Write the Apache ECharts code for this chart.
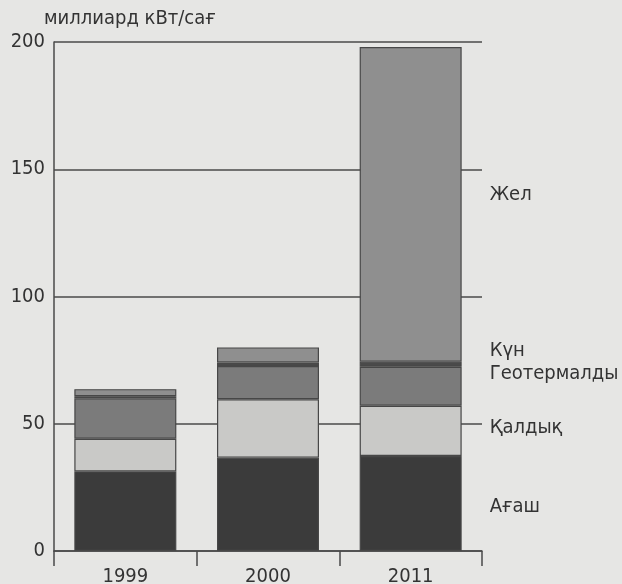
<!DOCTYPE html>
<html>
<head>
<meta charset="utf-8">
<script src="https://cdn.jsdelivr.net/npm/echarts@6/dist/echarts.min.js"></script>
<style>
  html, body { margin: 0; padding: 0; background: #e6e6e4; }
  #chart { width: 622px; height: 584px; }
</style>
</head>
<body>
<div id="chart"></div>
<script>
// данные (оқу: суреттен)
const years = ['1999', '2000', '2011'];
const wood = [31.3, 36.7, 37.3];        // Ағаш
const waste = [12.8, 22.9, 19.8];       // Қалдық
const geothermal = [15.9, 13.1, 15.3];  // Геотермалды
const solar = [0.8, 1.4, 2.0];          // Күн
const wind = [2.8, 5.9, 123.6];         // Жел

const yMin = 0;
const yMax = 200;
const yStep = 50;

const font = "'DejaVu Sans Condensed', 'DejaVu Sans', sans-serif";
const ink = '#333333';

// label only on the last bar (2011), to the right
const withEndLabel = (values, text, dy) => values.map((v, i) => {
  if (i !== values.length - 1) return v;
  return {
    value: v,
    label: {
      show: true,
      position: 'right',
      distance: 28,
      offset: [0, dy],
      formatter: text,
      color: ink,
      fontFamily: font,
      fontSize: 20
    }
  };
});

const layers = [
  { name: 'Ағаш', data: wood, color: '#3b3b3b', dy: 3 },
  { name: 'Қалдық', data: waste, color: '#c9c9c7', dy: -3 },
  { name: 'Геотермалды', data: geothermal, color: '#7b7b7b', dy: -12 },
  { name: 'Күн', data: solar, color: '#4a4a4a', dy: -13 },
  { name: 'Жел', data: wind, color: '#8f8f8f', dy: -10 }
];

const chart = echarts.init(document.getElementById('chart'));
chart.setOption({
  backgroundColor: '#e6e6e4',
  animation: false,
  grid: { left: 54, right: 140, top: 42, bottom: 33, outerBoundsMode: 'none', containLabel: false },
  xAxis: {
    type: 'category',
    data: years,
    axisLine: { lineStyle: { color: '#4a4a4a', width: 1.5 } },
    axisTick: { show: true, length: 15, lineStyle: { color: '#4a4a4a', width: 1.5 } },
    axisLabel: { color: ink, fontFamily: font, fontSize: 20, margin: 16 }
  },
  yAxis: {
    type: 'value',
    min: yMin,
    max: yMax,
    interval: yStep,
    name: 'миллиард кВт/сағ',
    nameLocation: 'end',
    nameGap: 13,
    nameTextStyle: { color: ink, fontFamily: font, fontSize: 20, align: 'left', padding: [0, 0, 0, -10] },
    axisLine: { show: true, lineStyle: { color: '#4a4a4a', width: 1.5 } },
    axisTick: { show: false },
    axisLabel: { color: ink, fontFamily: font, fontSize: 20, margin: 9 },
    splitLine: { lineStyle: { color: '#4a4a4a', width: 1.5 } }
  },
  series: layers.map(l => ({
    name: l.name,
    type: 'bar',
    stack: 'total',
    barWidth: 102,
    data: withEndLabel(l.data, l.name, l.dy),
    itemStyle: { color: l.color, borderColor: '#474747', borderWidth: 1.2 }
  }))
});
</script>
</body>
</html>
